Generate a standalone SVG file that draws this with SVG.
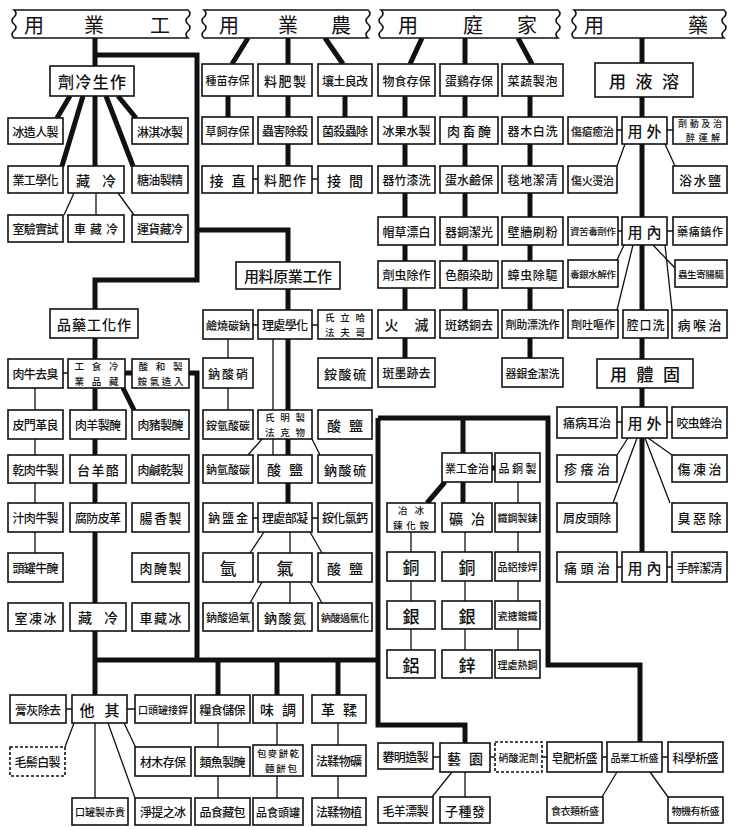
<svg xmlns="http://www.w3.org/2000/svg" width="730" height="830" viewBox="0 0 730 830">
<style>
.b{fill:#fff;stroke:#111;stroke-width:1.6}
.d{stroke-dasharray:3 2}
.t{font-family:"Noto Sans CJK TC","Noto Sans CJK SC",sans-serif;font-size:12px;fill:#111;text-anchor:middle;dominant-baseline:central;font-weight:500}
.u{font-size:9.5px}
.h{font-family:"Noto Sans CJK TC","Noto Sans CJK SC",sans-serif;font-size:20px;fill:#111;text-anchor:middle;dominant-baseline:central}
.k{stroke:#111;stroke-width:5;fill:none}
.n{stroke:#111;stroke-width:1.3;fill:none}
</style>
<rect width="730" height="830" fill="#fff"/>
<g id="connectors">
<path class="k" d="M95,38V66 M95,55H197V280H95V309 M197,230H288V262 M70,96L57,118 M83,96L62,166 M95,96V166 M106,96L133,166 M118,96L136,118 M95,338V695 M125,373H132 M123,388L134,410 M189,373H197V660 M95,660H378 M218,660V695 M277,660V695 M338,660V695 M378,418V725H465V743 M378,418H548V665H640V742 M463,418V453 M492,468H495 M445,482L427,503 M463,482V503 M248,38L232,64 M288,38V64 M325,38L343,64 M228,96V117 M288,96V166 M345,96V117 M288,289V410 M288,438V455 M288,483V503 M422,38L410,64 M465,38V64 M518,38L532,64 M405,96V358 M465,96V310 M530,96V358 M642,38V553"/>
<path class="n" d="M74,193L64,215 M96,193V215 M118,193L134,215 M63,373H68 M35,388V553 M273,339V410 M273,438V455 M253,325H258 M312,325H318 M228,339V410 M262,439L248,455 M312,439L320,455 M253,518H258 M312,518H318 M264,532L250,553 M290,532V553 M310,532L322,553 M262,582L250,603 M290,582V603 M310,582L322,603 M253,179H258 M312,179H318 M617,130H622 M667,130H673 M625,144L617,166 M665,144L675,166 M618,231H622 M667,231H673 M624,245L617,260 M633,245L617,310 M653,245L675,268 M665,245L672,310 M617,422H622 M667,422H672 M628,438L617,455 M637,438L613,503 M648,438L672,455 M645,438L670,503 M617,567H622 M667,567H672 M518,482V650 M411,532V650 M465,532V650 M66,709H72 M127,709H135 M74,723L65,747 M95,723V798 M108,723L135,798 M124,723L136,748 M218,723V798 M277,723V798 M338,723V798 M433,757H440 M490,757H495 M542,757H547 M602,757H607 M662,757H668 M452,772L432,797 M465,772V797 M617,772L602,797 M650,772L668,797"/>
</g>
<g id="headers">
<g id="h1"><path class="b" d="M14,10H188q4,3.5 0,7q-4,3.5 0,7q4,3.5 0,7q-4,3.5 0,7H14q-4,-3.5 0,-7q4,-3.5 0,-7q-4,-3.5 0,-7q4,-3.5 0,-7Z"/><text class="h" x="34" y="24">用</text><text class="h" x="94" y="24">業</text><text class="h" x="160" y="24">工</text></g>
<g id="h2"><path class="b" d="M204,10H368q4,3.5 0,7q-4,3.5 0,7q4,3.5 0,7q-4,3.5 0,7H204q-4,-3.5 0,-7q4,-3.5 0,-7q-4,-3.5 0,-7q4,-3.5 0,-7Z"/><text class="h" x="229" y="24">用</text><text class="h" x="288" y="24">業</text><text class="h" x="341" y="24">農</text></g>
<g id="h3"><path class="b" d="M381,10H558q4,3.5 0,7q-4,3.5 0,7q4,3.5 0,7q-4,3.5 0,7H381q-4,-3.5 0,-7q4,-3.5 0,-7q-4,-3.5 0,-7q4,-3.5 0,-7Z"/><text class="h" x="408" y="24">用</text><text class="h" x="473" y="24">庭</text><text class="h" x="527" y="24">家</text></g>
<g id="h4"><path class="b" d="M574,10H724q4,3.5 0,7q-4,3.5 0,7q4,3.5 0,7q-4,3.5 0,7H574q-4,-3.5 0,-7q4,-3.5 0,-7q-4,-3.5 0,-7q4,-3.5 0,-7Z"/><text class="h" x="594" y="24">用</text><text class="h" x="698" y="24">藥</text></g>
</g>
<g id="c1_0"><rect class="b" x="50" y="66" width="84" height="30"/><text class="t" x="92" y="81" style="font-size:16px" textLength="68">劑冷生作</text></g>
<g id="c1_1"><rect class="b" x="8" y="118" width="55" height="26"/><text class="t" x="35.5" y="131" textLength="46">冰造人製</text></g>
<g id="c1_2"><rect class="b" x="132" y="118" width="56" height="26"/><text class="t" x="160" y="131" textLength="46">淋淇冰製</text></g>
<g id="c1_3"><rect class="b" x="8" y="166" width="55" height="27"/><text class="t" x="35.5" y="179.5" textLength="46">業工學化</text></g>
<g id="c1_4"><rect class="b" x="68" y="166" width="56" height="27"/><text class="t" x="96" y="179.5" style="font-size:14px" textLength="40">藏冷</text></g>
<g id="c1_5"><rect class="b" x="132" y="166" width="56" height="27"/><text class="t" x="160" y="179.5" textLength="46">糖油製精</text></g>
<g id="c1_6"><rect class="b" x="8" y="215" width="55" height="27"/><text class="t" x="35.5" y="228.5" textLength="46">室驗實試</text></g>
<g id="c1_7"><rect class="b" x="68" y="215" width="56" height="27"/><text class="t" x="96" y="228.5" textLength="44">車藏冷</text></g>
<g id="c1_8"><rect class="b" x="132" y="215" width="56" height="27"/><text class="t" x="160" y="228.5" textLength="46">運貨藏冷</text></g>
<g id="c1_9"><rect class="b" x="50" y="309" width="88" height="29"/><text class="t" x="94" y="323.5" style="font-size:14px" textLength="74">品藥工化作</text></g>
<g id="c1_10"><rect class="b" x="8" y="359" width="55" height="29"/><text class="t" x="35.5" y="373.5" textLength="46">肉牛去臭</text></g>
<g id="c1_11"><rect class="b" x="68" y="359" width="57" height="29"/><text class="t u" x="96.5" y="366" textLength="44">工食冷</text><text class="t u" x="96.5" y="381" textLength="44">業品藏</text></g>
<g id="c1_12"><rect class="b" x="132" y="359" width="57" height="29"/><text class="t u" x="160.5" y="366" textLength="44">酸和製</text><text class="t u" x="160.5" y="381" textLength="46">銨氣造入</text></g>
<g id="c1_13"><rect class="b" x="8" y="410" width="55" height="29"/><text class="t" x="35.5" y="424.5" textLength="46">皮門革良</text></g>
<g id="c1_14"><rect class="b" x="70" y="410" width="56" height="29"/><text class="t" x="98" y="424.5" textLength="46">肉羊製醃</text></g>
<g id="c1_15"><rect class="b" x="132" y="410" width="57" height="29"/><text class="t" x="160.5" y="424.5" textLength="46">肉豬製醃</text></g>
<g id="c1_16"><rect class="b" x="8" y="455" width="55" height="28"/><text class="t" x="35.5" y="469" textLength="46">乾肉牛製</text></g>
<g id="c1_17"><rect class="b" x="70" y="455" width="56" height="28"/><text class="t" x="98" y="469" style="font-size:13px" textLength="42">台羊酪</text></g>
<g id="c1_18"><rect class="b" x="132" y="455" width="57" height="28"/><text class="t" x="160.5" y="469" textLength="46">肉鹹乾製</text></g>
<g id="c1_19"><rect class="b" x="8" y="503" width="55" height="29"/><text class="t" x="35.5" y="517.5" textLength="46">汁肉牛製</text></g>
<g id="c1_20"><rect class="b" x="70" y="503" width="56" height="29"/><text class="t" x="98" y="517.5" textLength="46">腐防皮革</text></g>
<g id="c1_21"><rect class="b" x="132" y="503" width="57" height="29"/><text class="t" x="160.5" y="517.5" style="font-size:13px" textLength="42">腸香製</text></g>
<g id="c1_22"><rect class="b" x="8" y="553" width="55" height="29"/><text class="t" x="35.5" y="567.5" textLength="46">頭罐牛醃</text></g>
<g id="c1_23"><rect class="b" x="132" y="553" width="57" height="29"/><text class="t" x="160.5" y="567.5" style="font-size:13px" textLength="42">肉醃製</text></g>
<g id="c1_24"><rect class="b" x="8" y="603" width="55" height="28"/><text class="t" x="35.5" y="617" style="font-size:13px" textLength="42">室凍冰</text></g>
<g id="c1_25"><rect class="b" x="70" y="603" width="56" height="28"/><text class="t" x="98" y="617" style="font-size:14px" textLength="40">藏冷</text></g>
<g id="c1_26"><rect class="b" x="132" y="603" width="57" height="28"/><text class="t" x="160.5" y="617" style="font-size:13px" textLength="42">車藏冰</text></g>
<g id="c5_0"><rect class="b" x="10" y="695" width="56" height="28"/><text class="t" x="38" y="709" textLength="46">膏灰除去</text></g>
<g id="c5_1"><rect class="b" x="72" y="695" width="55" height="28"/><text class="t" x="99.5" y="709" style="font-size:15px" textLength="40">他其</text></g>
<g id="c5_2"><rect class="b" x="135" y="695" width="56" height="28"/><text class="t" x="163" y="709" style="font-size:10px" textLength="50">口頭罐接銲</text></g>
<g id="c5_3"><rect class="b" x="195" y="695" width="55" height="28"/><text class="t" x="222.5" y="709" textLength="46">糧食儲保</text></g>
<g id="c5_4"><rect class="b" x="253" y="695" width="50" height="28"/><text class="t" x="278" y="709" style="font-size:14px" textLength="36">味調</text></g>
<g id="c5_5"><rect class="b" x="312" y="695" width="54" height="28"/><text class="t" x="339" y="709" style="font-size:14px" textLength="36">革鞣</text></g>
<g id="c5_6"><rect class="b d" x="10" y="747" width="55" height="29"/><text class="t" x="37.5" y="761.5" textLength="46">毛鬃白製</text></g>
<g id="c5_7"><rect class="b" x="135" y="747" width="56" height="29"/><text class="t" x="163" y="761.5" textLength="46">材木存保</text></g>
<g id="c5_8"><rect class="b" x="195" y="747" width="55" height="29"/><text class="t" x="222.5" y="761.5" textLength="46">類魚製醃</text></g>
<g id="c5_9"><rect class="b" x="253" y="745" width="50" height="31"/><text class="t u" x="278" y="753" textLength="42">包麥餅乾</text><text class="t u" x="281" y="768" textLength="32">麵餅包</text></g>
<g id="c5_10"><rect class="b" x="312" y="745" width="54" height="31"/><text class="t" x="339" y="760.5" textLength="46">法鞣物礦</text></g>
<g id="c5_11"><rect class="b" x="72" y="798" width="56" height="27"/><text class="t" x="100" y="811.5" style="font-size:10px" textLength="50">口罐製赤貴</text></g>
<g id="c5_12"><rect class="b" x="135" y="798" width="56" height="27"/><text class="t" x="163" y="811.5" textLength="46">淨提之冰</text></g>
<g id="c5_13"><rect class="b" x="195" y="798" width="55" height="27"/><text class="t" x="222.5" y="811.5" textLength="46">品食藏包</text></g>
<g id="c5_14"><rect class="b" x="253" y="798" width="50" height="27"/><text class="t" x="278" y="811.5" style="font-size:11px" textLength="44">品食頭罐</text></g>
<g id="c5_15"><rect class="b" x="312" y="798" width="54" height="27"/><text class="t" x="339" y="811.5" textLength="46">法鞣物植</text></g>
<g id="c2_0"><rect class="b" x="202" y="64" width="51" height="32"/><text class="t" x="227.5" y="80" style="font-size:11px" textLength="44">種苗存保</text></g>
<g id="c2_1"><rect class="b" x="258" y="64" width="54" height="32"/><text class="t" x="285" y="80" style="font-size:13px" textLength="42">料肥製</text></g>
<g id="c2_2"><rect class="b" x="318" y="64" width="54" height="32"/><text class="t" x="345" y="80" textLength="46">壤土良改</text></g>
<g id="c2_3"><rect class="b" x="202" y="117" width="51" height="27"/><text class="t" x="227.5" y="130.5" style="font-size:11px" textLength="44">草飼存保</text></g>
<g id="c2_4"><rect class="b" x="258" y="117" width="54" height="27"/><text class="t" x="285" y="130.5" textLength="46">蟲害除殺</text></g>
<g id="c2_5"><rect class="b" x="318" y="117" width="54" height="27"/><text class="t" x="345" y="130.5" textLength="46">菌殺蟲除</text></g>
<g id="c2_6"><rect class="b" x="202" y="166" width="51" height="27"/><text class="t" x="227.5" y="179.5" style="font-size:14px" textLength="36">接直</text></g>
<g id="c2_7"><rect class="b" x="258" y="166" width="54" height="27"/><text class="t" x="285" y="179.5" style="font-size:13px" textLength="42">料肥作</text></g>
<g id="c2_8"><rect class="b" x="318" y="166" width="54" height="27"/><text class="t" x="345" y="179.5" style="font-size:14px" textLength="36">接間</text></g>
<g id="c2_9"><rect class="b" x="236" y="262" width="104" height="27"/><text class="t" x="288" y="275.5" style="font-size:15px" textLength="88">用料原業工作</text></g>
<g id="c2_10"><rect class="b" x="203" y="310" width="50" height="29"/><text class="t" x="228" y="324.5" style="font-size:11px" textLength="44">鹼燒碳鈉</text></g>
<g id="c2_11"><rect class="b" x="258" y="310" width="54" height="29"/><text class="t" x="285" y="324.5" textLength="46">理處學化</text></g>
<g id="c2_12"><rect class="b" x="318" y="310" width="54" height="29"/><text class="t u" x="345" y="317" textLength="40">氏立哈</text><text class="t u" x="345" y="332" textLength="40">法夫哥</text></g>
<g id="c2_13"><rect class="b" x="203" y="358" width="50" height="30"/><text class="t" x="228" y="373" textLength="40">鈉酸硝</text></g>
<g id="c2_14"><rect class="b" x="318" y="358" width="54" height="30"/><text class="t" x="345" y="373" style="font-size:13px" textLength="42">銨酸硫</text></g>
<g id="c2_15"><rect class="b" x="203" y="410" width="50" height="29"/><text class="t" x="228" y="424.5" style="font-size:11px" textLength="44">銨氫酸碳</text></g>
<g id="c2_16"><rect class="b" x="258" y="410" width="54" height="29"/><text class="t u" x="285" y="417" textLength="40">氏明製</text><text class="t u" x="285" y="432" textLength="40">法克物</text></g>
<g id="c2_17"><rect class="b" x="318" y="410" width="54" height="29"/><text class="t" x="345" y="424.5" style="font-size:14px" textLength="36">酸鹽</text></g>
<g id="c2_18"><rect class="b" x="203" y="455" width="50" height="28"/><text class="t" x="228" y="469" style="font-size:11px" textLength="44">鈉氫酸碳</text></g>
<g id="c2_19"><rect class="b" x="258" y="455" width="54" height="28"/><text class="t" x="285" y="469" style="font-size:14px" textLength="36">酸鹽</text></g>
<g id="c2_20"><rect class="b" x="318" y="455" width="54" height="28"/><text class="t" x="345" y="469" style="font-size:13px" textLength="42">鈉酸硫</text></g>
<g id="c2_21"><rect class="b" x="203" y="503" width="50" height="29"/><text class="t" x="228" y="517.5" textLength="40">鈉鹽金</text></g>
<g id="c2_22"><rect class="b" x="258" y="503" width="54" height="29"/><text class="t" x="285" y="517.5" textLength="46">理處部凝</text></g>
<g id="c2_23"><rect class="b" x="318" y="503" width="54" height="29"/><text class="t" x="345" y="517.5" textLength="46">銨化氯鈣</text></g>
<g id="c2_24"><rect class="b" x="203" y="553" width="50" height="29"/><text class="t" x="228" y="567.5" style="font-size:17px">氫</text></g>
<g id="c2_25"><rect class="b" x="258" y="553" width="54" height="29"/><text class="t" x="285" y="567.5" style="font-size:17px">氣</text></g>
<g id="c2_26"><rect class="b" x="318" y="553" width="54" height="29"/><text class="t" x="345" y="567.5" style="font-size:14px" textLength="36">酸鹽</text></g>
<g id="c2_27"><rect class="b" x="203" y="603" width="50" height="28"/><text class="t" x="228" y="617" style="font-size:11px" textLength="44">鈉酸過氧</text></g>
<g id="c2_28"><rect class="b" x="258" y="603" width="54" height="28"/><text class="t" x="285" y="617" style="font-size:13px" textLength="42">鈉酸氮</text></g>
<g id="c2_29"><rect class="b" x="318" y="603" width="54" height="28"/><text class="t" x="345" y="617" style="font-size:10px" textLength="48">鈉酸過氯化</text></g>
<g id="c3_0"><rect class="b" x="378" y="64" width="57" height="32"/><text class="t" x="406.5" y="80" textLength="48">物食存保</text></g>
<g id="c3_1"><rect class="b" x="440" y="64" width="58" height="32"/><text class="t" x="469" y="80" textLength="48">蛋鷄存保</text></g>
<g id="c3_2"><rect class="b" x="502" y="64" width="61" height="32"/><text class="t" x="532.5" y="80" textLength="50">菜蔬製泡</text></g>
<g id="c3_3"><rect class="b" x="378" y="117" width="57" height="27"/><text class="t" x="406.5" y="130.5" textLength="48">冰果水製</text></g>
<g id="c3_4"><rect class="b" x="440" y="117" width="58" height="27"/><text class="t" x="469" y="130.5" style="font-size:13px" textLength="44">肉畜醃</text></g>
<g id="c3_5"><rect class="b" x="502" y="117" width="61" height="27"/><text class="t" x="532.5" y="130.5" textLength="50">器木白洗</text></g>
<g id="c3_6"><rect class="b" x="378" y="166" width="57" height="27"/><text class="t" x="406.5" y="179.5" textLength="48">器竹漆洗</text></g>
<g id="c3_7"><rect class="b" x="440" y="166" width="58" height="27"/><text class="t" x="469" y="179.5" textLength="48">蛋水鹼保</text></g>
<g id="c3_8"><rect class="b" x="502" y="166" width="61" height="27"/><text class="t" x="532.5" y="179.5" textLength="50">毯地潔清</text></g>
<g id="c3_9"><rect class="b" x="378" y="217" width="57" height="28"/><text class="t" x="406.5" y="231" textLength="48">帽草漂白</text></g>
<g id="c3_10"><rect class="b" x="440" y="217" width="58" height="28"/><text class="t" x="469" y="231" textLength="48">器銅潔光</text></g>
<g id="c3_11"><rect class="b" x="502" y="217" width="61" height="28"/><text class="t" x="532.5" y="231" textLength="50">壁牆刷粉</text></g>
<g id="c3_12"><rect class="b" x="378" y="261" width="57" height="27"/><text class="t" x="406.5" y="274.5" textLength="48">劑虫除作</text></g>
<g id="c3_13"><rect class="b" x="440" y="261" width="58" height="27"/><text class="t" x="469" y="274.5" textLength="48">色顏染助</text></g>
<g id="c3_14"><rect class="b" x="502" y="261" width="61" height="27"/><text class="t" x="532.5" y="274.5" textLength="50">蟑虫除驅</text></g>
<g id="c3_15"><rect class="b" x="378" y="310" width="57" height="28"/><text class="t" x="406.5" y="324" style="font-size:14px" textLength="44">火滅</text></g>
<g id="c3_16"><rect class="b" x="440" y="310" width="58" height="28"/><text class="t" x="469" y="324" textLength="48">斑銹銅去</text></g>
<g id="c3_17"><rect class="b" x="502" y="310" width="61" height="28"/><text class="t" x="532.5" y="324" style="font-size:11px" textLength="54">劑助漂洗作</text></g>
<g id="c3_18"><rect class="b" x="378" y="358" width="57" height="29"/><text class="t" x="406.5" y="372.5" textLength="48">斑墨跡去</text></g>
<g id="c3_19"><rect class="b" x="502" y="358" width="61" height="29"/><text class="t" x="532.5" y="372.5" style="font-size:11px" textLength="54">器銀金潔洗</text></g>
<g id="c4_0"><rect class="b" x="595" y="63" width="98" height="34"/><text class="t" x="644" y="80" style="font-size:17px" textLength="70">用液溶</text></g>
<g id="c4_1"><rect class="b" x="568" y="117" width="49" height="27"/><text class="t" x="592.5" y="130.5" style="font-size:11px" textLength="43">傷瘡癒治</text></g>
<g id="c4_2"><rect class="b" x="622" y="117" width="45" height="27"/><text class="t" x="644.5" y="130.5" style="font-size:15px" textLength="34">用外</text></g>
<g id="c4_3"><rect class="b" x="673" y="117" width="54" height="27"/><text class="t" x="700" y="123" style="font-size:9px" textLength="44">劑動及治</text><text class="t" x="703" y="137.5" style="font-size:9px" textLength="34">醉運解</text></g>
<g id="c4_4"><rect class="b" x="568" y="166" width="49" height="27"/><text class="t" x="592.5" y="179.5" style="font-size:11px" textLength="43">傷火燙治</text></g>
<g id="c4_5"><rect class="b" x="673" y="166" width="54" height="27"/><text class="t" x="700" y="179.5" style="font-size:13px" textLength="42">浴水鹽</text></g>
<g id="c4_6"><rect class="b" x="568" y="217" width="50" height="28"/><text class="t" x="593" y="231" style="font-size:9.5px" textLength="46">資苦毒劑作</text></g>
<g id="c4_7"><rect class="b" x="622" y="217" width="45" height="28"/><text class="t" x="644.5" y="231" style="font-size:15px" textLength="34">用內</text></g>
<g id="c4_8"><rect class="b" x="673" y="217" width="54" height="28"/><text class="t" x="700" y="231" style="font-size:11px" textLength="46">藥痛鎮作</text></g>
<g id="c4_9"><rect class="b" x="568" y="260" width="50" height="27"/><text class="t" x="593" y="273.5" style="font-size:9.5px" textLength="46">毒銀水解作</text></g>
<g id="c4_10"><rect class="b" x="675" y="260" width="52" height="27"/><text class="t" x="701" y="273.5" style="font-size:9.5px" textLength="46">蟲生寄腸驅</text></g>
<g id="c4_11"><rect class="b" x="568" y="310" width="50" height="28"/><text class="t" x="593" y="324" style="font-size:11px" textLength="44">劑吐嘔作</text></g>
<g id="c4_12"><rect class="b" x="623" y="310" width="45" height="28"/><text class="t" x="645.5" y="324" style="font-size:12px" textLength="38">腔口洗</text></g>
<g id="c4_13"><rect class="b" x="672" y="310" width="55" height="28"/><text class="t" x="699.5" y="324" style="font-size:13px" textLength="44">病喉治</text></g>
<g id="c4_14"><rect class="b" x="597" y="359" width="96" height="29"/><text class="t" x="645" y="373.5" style="font-size:17px" textLength="70">用體固</text></g>
<g id="c4_15"><rect class="b" x="557" y="407" width="60" height="31"/><text class="t" x="587" y="422.5" textLength="48">痛病耳治</text></g>
<g id="c4_16"><rect class="b" x="622" y="407" width="45" height="31"/><text class="t" x="644.5" y="422.5" style="font-size:15px" textLength="34">用外</text></g>
<g id="c4_17"><rect class="b" x="672" y="407" width="55" height="31"/><text class="t" x="699.5" y="422.5" textLength="46">咬虫蜂治</text></g>
<g id="c4_18"><rect class="b" x="557" y="455" width="60" height="27"/><text class="t" x="587" y="468.5" style="font-size:13px" textLength="46">疹癢治</text></g>
<g id="c4_19"><rect class="b" x="672" y="455" width="55" height="27"/><text class="t" x="699.5" y="468.5" style="font-size:13px" textLength="44">傷凍治</text></g>
<g id="c4_20"><rect class="b" x="557" y="503" width="60" height="29"/><text class="t" x="587" y="517.5" textLength="48">屑皮頭除</text></g>
<g id="c4_21"><rect class="b" x="672" y="503" width="55" height="29"/><text class="t" x="699.5" y="517.5" style="font-size:13px" textLength="44">臭惡除</text></g>
<g id="c4_22"><rect class="b" x="557" y="552" width="60" height="30"/><text class="t" x="587" y="567" style="font-size:13px" textLength="46">痛頭治</text></g>
<g id="c4_23"><rect class="b" x="622" y="552" width="45" height="30"/><text class="t" x="644.5" y="567" style="font-size:15px" textLength="34">用內</text></g>
<g id="c4_24"><rect class="b" x="672" y="552" width="55" height="30"/><text class="t" x="699.5" y="567" textLength="46">手醉潔清</text></g>
<g id="e0"><rect class="b" x="442" y="453" width="50" height="29"/><text class="t" x="467" y="467.5" style="font-size:11px" textLength="44">業工金治</text></g>
<g id="e1"><rect class="b" x="495" y="453" width="45" height="29"/><text class="t" x="517.5" y="467.5" style="font-size:11px" textLength="38">品銅製</text></g>
<g id="e2"><rect class="b" x="387" y="503" width="48" height="29"/><text class="t u" x="411" y="510" textLength="26">冶冰</text><text class="t u" x="411" y="525" textLength="36">鍊化銨</text></g>
<g id="e3"><rect class="b" x="442" y="503" width="50" height="29"/><text class="t" x="467" y="517.5" style="font-size:14px" textLength="36">礦冶</text></g>
<g id="e4"><rect class="b" x="495" y="503" width="45" height="29"/><text class="t" x="517.5" y="517.5" style="font-size:10px" textLength="40">鐵鋼製鍊</text></g>
<g id="e5"><rect class="b" x="387" y="552" width="48" height="29"/><text class="t" x="411" y="566.5" style="font-size:17px">銅</text></g>
<g id="e6"><rect class="b" x="442" y="552" width="50" height="29"/><text class="t" x="467" y="566.5" style="font-size:17px">銅</text></g>
<g id="e7"><rect class="b" x="495" y="552" width="45" height="29"/><text class="t" x="517.5" y="566.5" style="font-size:10px" textLength="40">品鋁接焊</text></g>
<g id="e8"><rect class="b" x="387" y="601" width="48" height="28"/><text class="t" x="411" y="615" style="font-size:17px">銀</text></g>
<g id="e9"><rect class="b" x="442" y="601" width="50" height="28"/><text class="t" x="467" y="615" style="font-size:17px">銀</text></g>
<g id="e10"><rect class="b" x="495" y="601" width="45" height="28"/><text class="t" x="517.5" y="615" style="font-size:10px" textLength="40">瓷搪鍍鐵</text></g>
<g id="e11"><rect class="b" x="387" y="650" width="48" height="28"/><text class="t" x="411" y="664" style="font-size:17px">鋁</text></g>
<g id="e12"><rect class="b" x="442" y="650" width="50" height="28"/><text class="t" x="467" y="664" style="font-size:17px">鋅</text></g>
<g id="e13"><rect class="b" x="495" y="650" width="45" height="28"/><text class="t" x="517.5" y="664" style="font-size:10px" textLength="40">理處熱鋼</text></g>
<g id="r0"><rect class="b" x="378" y="743" width="55" height="26"/><text class="t" x="405.5" y="756" textLength="46">礬明造製</text></g>
<g id="r1"><rect class="b" x="440" y="743" width="50" height="29"/><text class="t" x="465" y="757.5" style="font-size:14px" textLength="36">藝園</text></g>
<g id="r2"><rect class="b d" x="495" y="742" width="47" height="30"/><text class="t" x="518.5" y="757" style="font-size:10px" textLength="40">硝酸泥劑</text></g>
<g id="r3"><rect class="b" x="547" y="742" width="55" height="30"/><text class="t" x="574.5" y="757" textLength="46">皂肥析盛</text></g>
<g id="r4"><rect class="b" x="607" y="742" width="55" height="30"/><text class="t" x="634.5" y="757" style="font-size:10px" textLength="48">品業工析盛</text></g>
<g id="r5"><rect class="b" x="668" y="742" width="55" height="30"/><text class="t" x="695.5" y="757" textLength="46">科學析盛</text></g>
<g id="r6"><rect class="b" x="378" y="797" width="55" height="26"/><text class="t" x="405.5" y="810" textLength="46">毛羊漂製</text></g>
<g id="r7"><rect class="b" x="440" y="797" width="50" height="26"/><text class="t" x="465" y="810" style="font-size:13px" textLength="40">子種發</text></g>
<g id="r8"><rect class="b" x="547" y="797" width="56" height="26"/><text class="t" x="575" y="810" style="font-size:10px" textLength="48">食衣類析盛</text></g>
<g id="r9"><rect class="b" x="668" y="797" width="55" height="26"/><text class="t" x="695.5" y="810" style="font-size:10px" textLength="48">物機有析盛</text></g>
</svg>
